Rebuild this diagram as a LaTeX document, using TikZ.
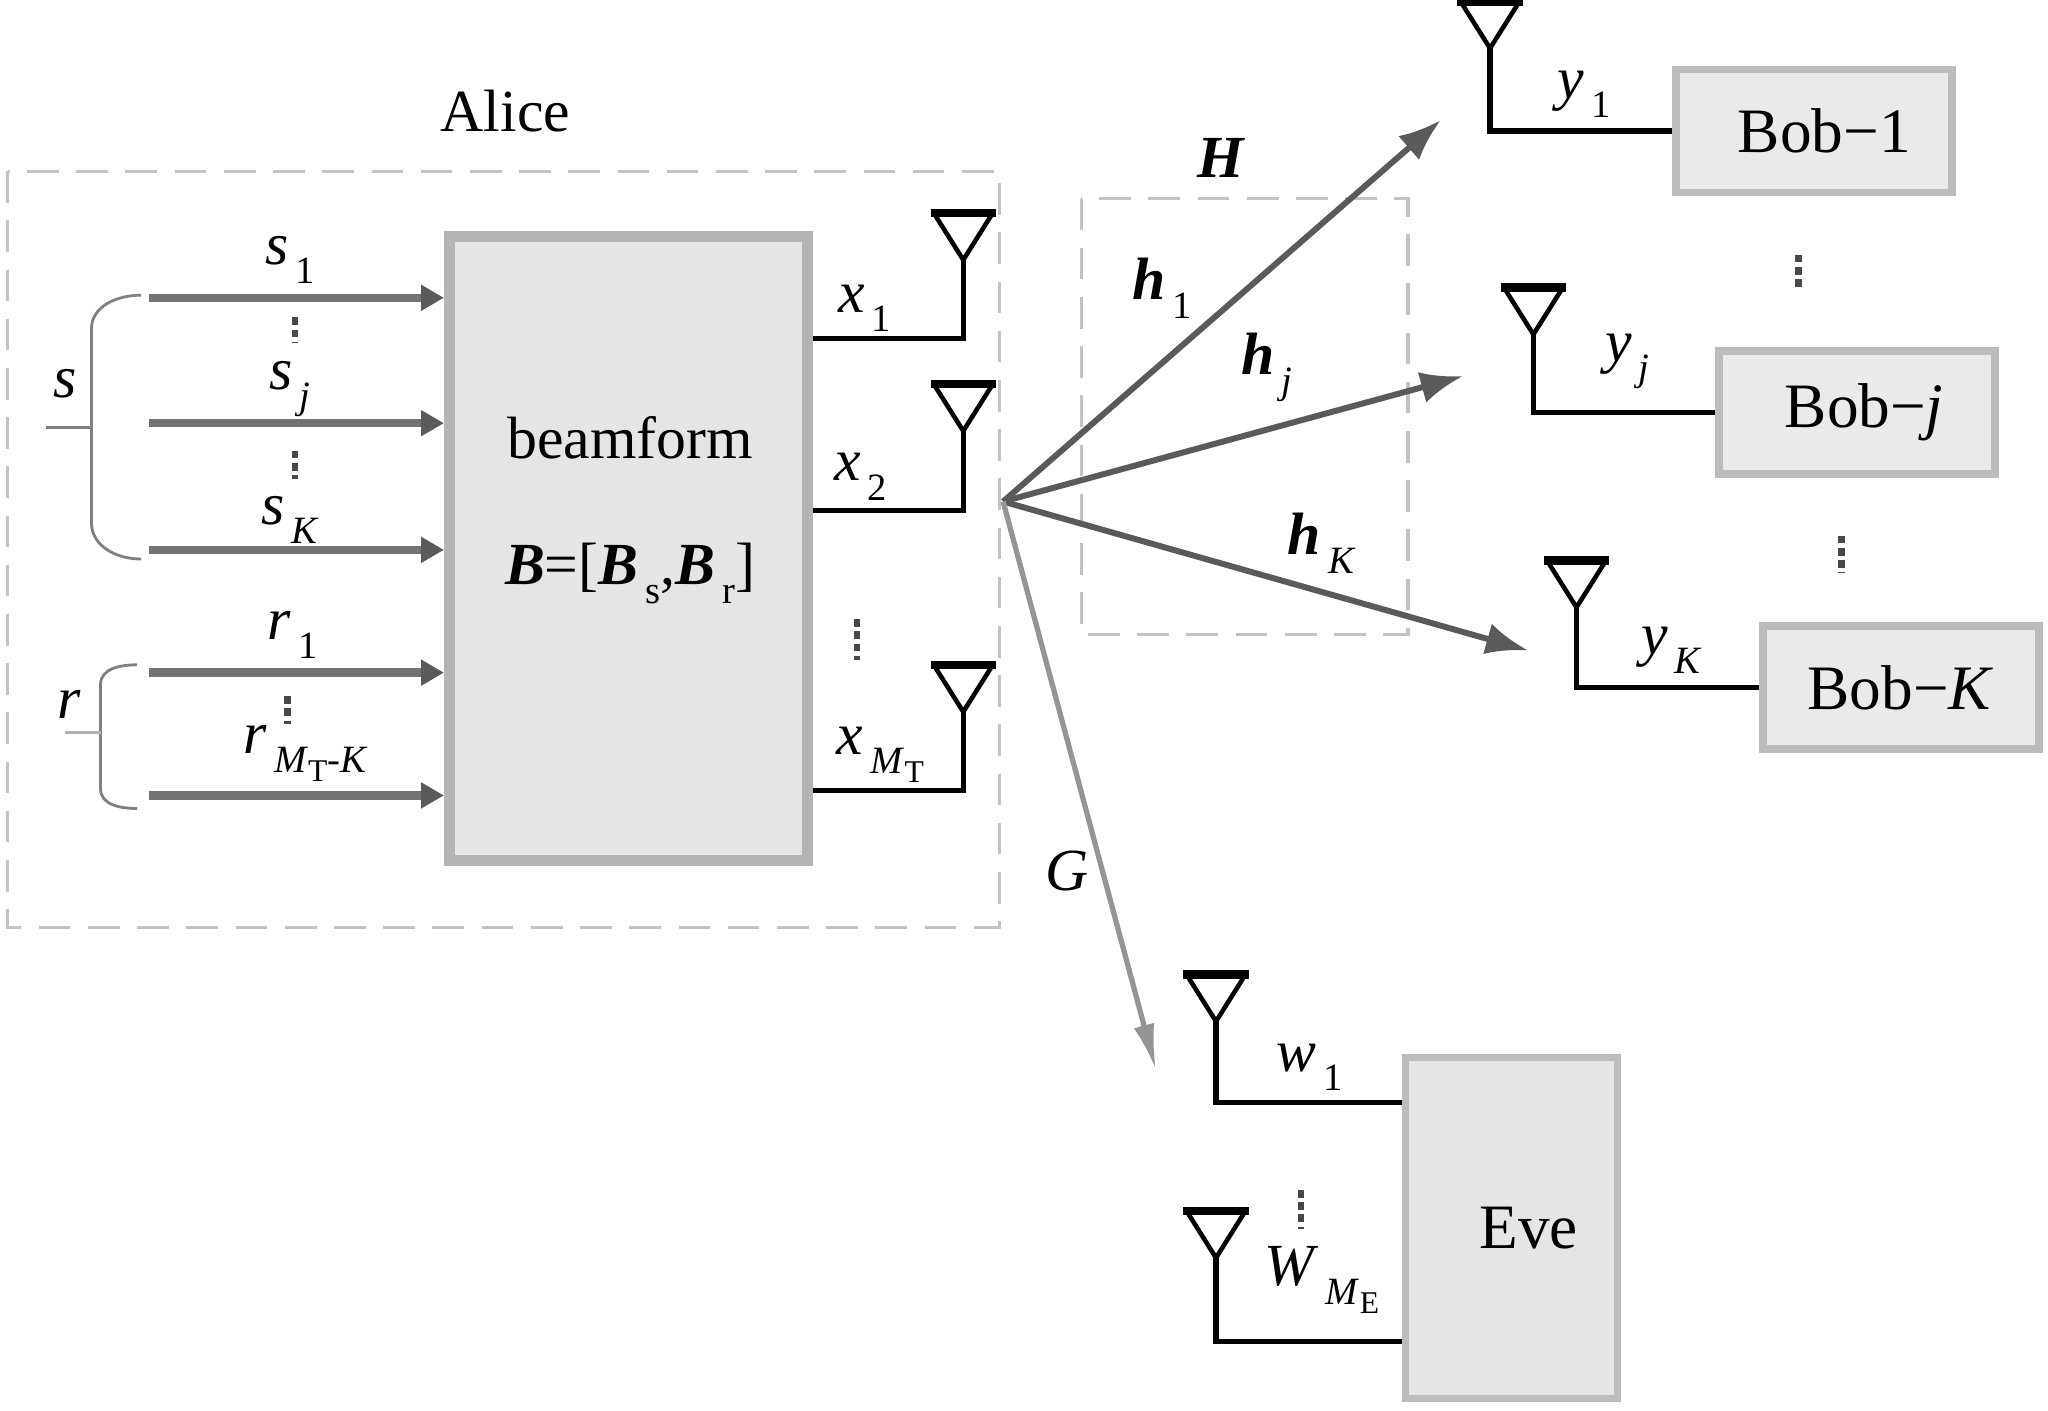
\documentclass[tikz,border=0pt]{standalone}
\usepackage{fontspec}
\setmainfont{Liberation Serif}
\usetikzlibrary{arrows.meta}
\definecolor{boxfill}{HTML}{E6E4E4}
\definecolor{boxedge}{HTML}{B5B3B3}
\definecolor{bobfill}{HTML}{EBE9E9}
\definecolor{bobedge}{HTML}{BDBBBB}
\definecolor{dashc}{HTML}{C4C2C2}
\definecolor{arrc}{HTML}{5A5A5A}
\definecolor{garr}{HTML}{959595}
\newcommand\sbs[1]{\hspace{0.12em}\raisebox{-0.7ex}{\fontsize{11}{11}\selectfont #1}}
\newcommand\ssbs[1]{\raisebox{-0.5ex}{\fontsize{9}{9}\selectfont #1}}
\newcommand\bi[1]{\textbf{\textit{#1}}}
\begin{document}
\begin{tikzpicture}[x=0.013061cm,y=-0.013061cm,
  lbl/.style={font=\fontsize{17}{20}\selectfont, inner sep=0pt},
  dashbox/.style={draw=dashc, line width=0.9pt, dash pattern=on 9pt off 5pt},
  bfbox/.style={draw=boxedge, fill=boxfill, line width=3pt, minimum width=3.58cm, minimum height=6.24cm, inner sep=0pt},
  bobbox/.style={draw=bobedge, fill=bobfill, line width=2.2pt, minimum width=2.76cm, minimum height=1.23cm, inner sep=0pt, font=\fontsize{18}{20}\selectfont},
  evebox/.style={draw=bobedge, fill=boxfill, line width=2pt, minimum width=2.12cm, minimum height=3.41cm, inner sep=0pt, font=\fontsize{18}{20}\selectfont},
  inarrow/.style={draw=arrc!85, line width=2.4pt, -{Triangle[length=6.5pt,width=7pt,color=arrc]}},
  fanarrow/.style={draw=arrc, line width=1.7pt, -{Latex[length=12pt,width=9pt]}},
  garrow/.style={draw=garr, line width=1.5pt, -{Latex[length=13pt,width=6pt]}},
  antline/.style={draw=black, line width=1.5pt},
  bracel/.style={draw=gray, line width=0.8pt},
  vdots/.style={draw=arrc!80!black, line width=1.8pt, dash pattern=on 2.2pt off 1.3pt},
  antenna/.pic={\draw[line width=2.4pt] (-25,-36) -- (25,-36);
                \draw[line width=1.3pt, line join=miter] (-22,-35) -- (0,0) -- (22,-35);}
]
\useasboundingbox (0,0) rectangle (1568,1080);

% dashed groups
\draw[dashbox] (6,131) rectangle (765,710);
\draw[dashbox] (828,152) rectangle (1078,486);
\node[lbl] (alice) at (387,85) {Alice};

% beamformer
\node[bfbox] (bf) at (481,420) {};
\node[lbl] (bftxt) at (482.5,335.5) {beamform};
\node[lbl] (btxt) at (482.5,439) {\bi{B}=[\bi{B}\sbs{s},\bi{B}\sbs{r}]};

% inputs
\coordinate (s1s) at (114,228);
\coordinate (sjs) at (114,324);
\coordinate (sKs) at (114,421);
\coordinate (r1s) at (114,515);
\coordinate (rMs) at (114,609);
\draw[inarrow] (s1s) -- (s1s -| bf.west);
\draw[inarrow] (sjs) -- (sjs -| bf.west);
\draw[inarrow] (sKs) -- (sKs -| bf.west);
\draw[inarrow] (r1s) -- (r1s -| bf.west);
\draw[inarrow] (rMs) -- (rMs -| bf.west);
\node[lbl] (s1) at (222,199) {\textit{s}\sbs{1}};
\node[lbl] (sj) at (222,298) {\textit{s}\sbs{\textit{j}}};
\node[lbl] (sK) at (222,398) {\textit{s}\sbs{\textit{K}}};
\node[lbl] (r1) at (224,486) {\textit{r}\sbs{1}};
\node[lbl] (rM) at (234,577) {\textit{r}\sbs{\textit{M}\ssbs{T}-\textit{K}}};
\draw[vdots] (226,243) -- (226,262);
\draw[vdots] (226,345) -- (226,367);
\draw[vdots] (220,533) -- (220,554);

% braces
\draw[bracel] (108,226) to[out=180,in=90] (70,252) -- (70,400) to[out=-90,in=180] (108,428);
\draw[bracel] (35,327) -- (70,327);
\node[lbl] (slbl) at (50,294) {\textit{s}};
\draw[bracel] (105,509) to[out=180,in=90] (77,524) -- (77,604) to[out=-90,in=180] (105,619);
\draw[bracel, draw=gray!60] (50,561) -- (77,561);
\node[lbl] (rlbl) at (53,539) {\textit{r}};

% Alice antennas
\coordinate (x1a) at (737.5,199);
\coordinate (x2a) at (737.5,330);
\coordinate (xMa) at (737.5,545);
\coordinate (x1y) at (0,259);
\coordinate (x2y) at (0,391);
\coordinate (xMy) at (0,605);
\pic at (x1a) {antenna};
\pic at (x2a) {antenna};
\pic at (xMa) {antenna};
\draw[antline] (bf.east |- x1y) -| (x1a);
\draw[antline] (bf.east |- x2y) -| (x2a);
\draw[antline] (bf.east |- xMy) -| (xMa);
\node[lbl] (x1) at (662,236) {\textit{x}\sbs{1}};
\node[lbl] (x2) at (659,365) {\textit{x}\sbs{2}};
\node[lbl] (xM) at (674,578) {\textit{x}\sbs{\textit{M}\ssbs{T}}};
\draw[vdots] (656,474) -- (656,505);

% channels
\coordinate (fan) at (768,384);
\coordinate (h1e) at (1103,92);
\coordinate (hje) at (1120,288);
\coordinate (hKe) at (1170,498);
\coordinate (ge) at (885,819);
\draw[fanarrow] (fan) -- (h1e);
\draw[fanarrow] (fan) -- (hje);
\draw[fanarrow] (fan) -- (hKe);
\draw[garrow] (fan) -- (ge);
\node[lbl] (H) at (935,121) {\bi{H}};
\node[lbl] (h1) at (890,221) {\bi{h}\sbs{1}};
\node[lbl] (hj) at (970,281) {\bi{h}\sbs{\textit{j}}};
\node[lbl] (hK) at (1012,416) {\bi{h}\sbs{\textit{K}}};
\node[lbl] (G) at (817,667) {\textit{G}};

% Bobs
\node[bobbox] (bob1) at (1388.7,100.2) {\hspace{6pt}Bob−1};
\node[bobbox] (bobj) at (1421.9,315.9) {\hspace{4pt}Bob−\textit{j}};
\node[bobbox] (bobK) at (1455.3,526.5) {Bob−\textit{K}};
\coordinate (b1a) at (1140.8,37);
\coordinate (bja) at (1174,256);
\coordinate (bKa) at (1207,465);
\pic at (b1a) {antenna};
\pic at (bja) {antenna};
\pic at (bKa) {antenna};
\draw[antline] (b1a) |- (bob1.west);
\draw[antline] (bja) |- (bobj.west);
\draw[antline] (bKa) |- (bobK.west);
\node[lbl] (y1) at (1213,72) {\textit{y}\sbs{1}};
\node[lbl] (yj) at (1246,277) {\textit{y}\sbs{\textit{j}}};
\node[lbl] (yK) at (1280,498) {\textit{y}\sbs{\textit{K}}};
\draw[vdots] (1377,195) -- (1377,223);
\draw[vdots] (1410,410) -- (1410,439);

% Eve
\node[evebox] (eve) at (1157,940) {\hspace{10pt}Eve};
\coordinate (e1a) at (931,782);
\coordinate (e2a) at (931,963);
\coordinate (e1y) at (0,844);
\coordinate (e2y) at (0,1027);
\pic at (e1a) {antenna};
\pic at (e2a) {antenna};
\draw[antline] (e1a) |- (eve.west |- e1y);
\draw[antline] (e2a) |- (eve.west |- e2y);
\node[lbl] (w1) at (1003,817) {\textit{w}\sbs{1}};
\node[lbl] (WM) at (1012,980) {\textit{W}\sbs{\textit{M}\ssbs{E}}};
\draw[vdots] (996,911) -- (996,941);
\end{tikzpicture}
\end{document}
